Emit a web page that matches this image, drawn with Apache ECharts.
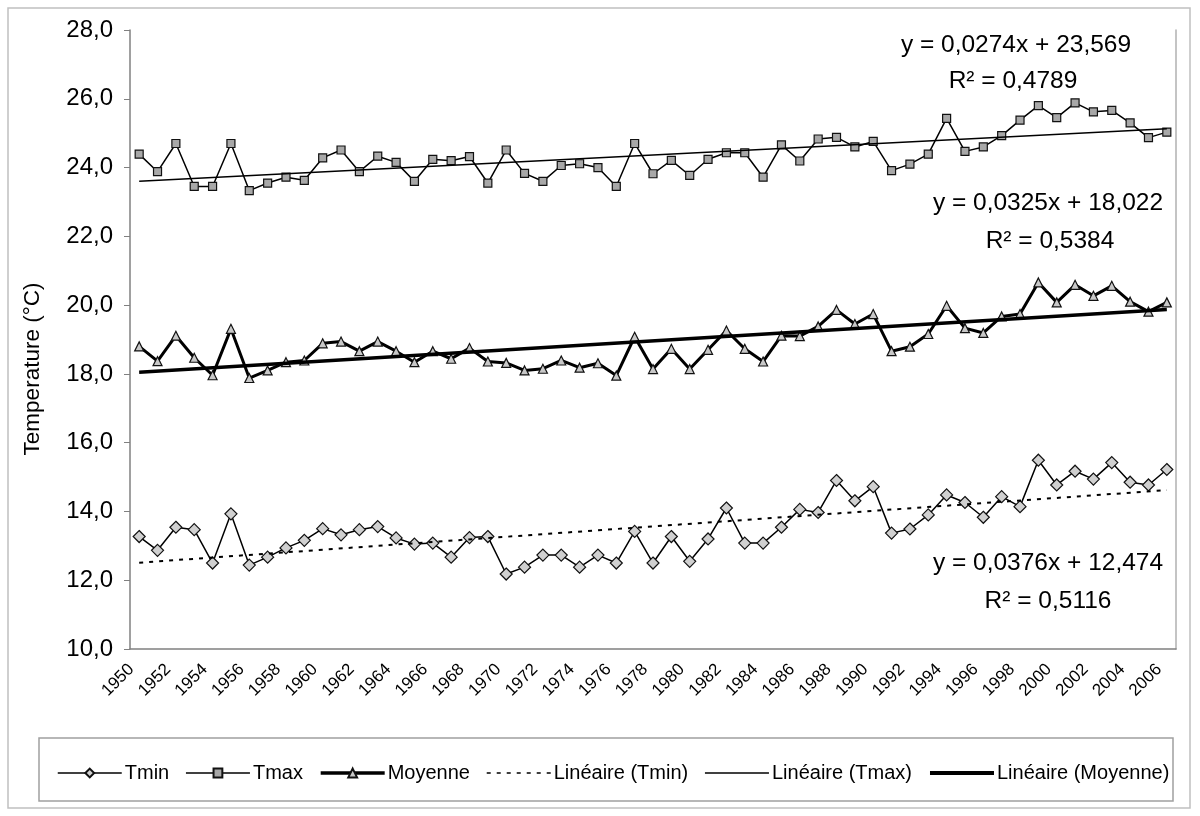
<!DOCTYPE html>
<html>
<head>
<meta charset="utf-8">
<title>Températures 1950-2006</title>
<script src="https://cdn.jsdelivr.net/npm/echarts@6/dist/echarts.min.js"></script>
<style>
  html, body { margin: 0; padding: 0; background: #fff; }
  #chart { width: 1200px; height: 816px; }
</style>
</head>
<body>
<div id="chart"></div>
<script>
// 年份（类目轴）
const years = [
  '1950', '1951', '1952', '1953', '1954', '1955', '1956', '1957', '1958', '1959',
  '1960', '1961', '1962', '1963', '1964', '1965', '1966', '1967', '1968', '1969',
  '1970', '1971', '1972', '1973', '1974', '1975', '1976', '1977', '1978', '1979',
  '1980', '1981', '1982', '1983', '1984', '1985', '1986', '1987', '1988', '1989',
  '1990', '1991', '1992', '1993', '1994', '1995', '1996', '1997', '1998', '1999',
  '2000', '2001', '2002', '2003', '2004', '2005', '2006'
];

// 最低气温 Tmin
const tmin = [
  13.27, 12.87, 13.54, 13.47, 12.50, 13.93, 12.44, 12.67, 12.94, 13.16,
  13.50, 13.32, 13.47, 13.56, 13.23, 13.05, 13.08, 12.67, 13.24, 13.27,
  12.18, 12.38, 12.73, 12.73, 12.38, 12.73, 12.50, 13.42, 12.50, 13.27,
  12.55, 13.20, 14.10, 13.08, 13.08, 13.54, 14.06, 13.97, 14.90, 14.31,
  14.72, 13.37, 13.49, 13.90, 14.48, 14.26, 13.83, 14.43, 14.14, 15.49,
  14.77, 15.17, 14.94, 15.42, 14.85, 14.77, 15.22
];

// 最高气温 Tmax
const tmax = [
  24.39, 23.88, 24.70, 23.45, 23.45, 24.70, 23.33, 23.55, 23.72, 23.63,
  24.28, 24.51, 23.88, 24.33, 24.15, 23.60, 24.24, 24.20, 24.32, 23.55,
  24.51, 23.83, 23.60, 24.06, 24.11, 24.00, 23.45, 24.70, 23.82, 24.21,
  23.77, 24.24, 24.43, 24.43, 23.72, 24.66, 24.19, 24.83, 24.88, 24.60,
  24.76, 23.91, 24.10, 24.39, 25.43, 24.47, 24.60, 24.93, 25.38, 25.80,
  25.45, 25.88, 25.62, 25.66, 25.30, 24.87, 25.03
];

// 平均气温 Moyenne
const moyenne = [
  18.80, 18.37, 19.11, 18.47, 17.96, 19.31, 17.88, 18.10, 18.34, 18.39,
  18.89, 18.94, 18.66, 18.94, 18.66, 18.34, 18.66, 18.44, 18.75, 18.36,
  18.32, 18.10, 18.15, 18.39, 18.18, 18.31, 17.95, 19.08, 18.14, 18.73,
  18.14, 18.70, 19.26, 18.73, 18.36, 19.11, 19.10, 19.38, 19.86, 19.45,
  19.74, 18.66, 18.79, 19.16, 19.98, 19.33, 19.19, 19.67, 19.74, 20.66,
  20.08, 20.59, 20.27, 20.56, 20.10, 19.81, 20.08
];

// 趋势线两端的值（首年、末年）
const trendTmin = [12.51, 14.62];
const trendTmax = [23.60, 25.13];
const trendMoyenne = [18.05, 19.87];

// 纵轴刻度
const yMin = 10;
const yMax = 28;
const yStep = 2;

// 趋势方程标注文字
const eqTmax = ['y = 0,0274x + 23,569', 'R² = 0,4789'];
const eqMoyenne = ['y = 0,0325x + 18,022', 'R² = 0,5384'];
const eqTmin = ['y = 0,0376x + 12,474', 'R² = 0,5116'];

const FONT = '"Liberation Sans", Arial, sans-serif';

/**
 * 把两端值铺成整条类目数据，中间留空，由 connectNulls 连成直线
 */
function trendData(ends) {
  const data = years.map(() => '-');
  data[0] = ends[0];
  data[data.length - 1] = ends[1];
  return data;
}

/**
 * 生成一条标注文字
 */
function label(text, x, y) {
  return {
    type: 'text',
    x: x,
    y: y,
    style: {
      text: text,
      font: '24.5px ' + FONT,
      fill: '#000',
      textAlign: 'center',
      textVerticalAlign: 'middle'
    }
  };
}

const chart = echarts.init(document.getElementById('chart'), null, { renderer: 'canvas' });

// 趋势线的图例不画圆点
const noSymbol = { color: 'rgba(0,0,0,0)', borderWidth: 0 };

const option = {
  animation: false,
  backgroundColor: '#fff',
  grid: { left: 130, right: 24, top: 30, bottom: 167, containLabel: false },
  xAxis: {
    type: 'category',
    data: years,
    boundaryGap: true,
    axisLine: { lineStyle: { color: '#808080', width: 1.5 } },
    axisTick: { interval: 0, length: 6, lineStyle: { color: '#808080' } },
    axisLabel: {
      interval: 1,
      rotate: 45,
      margin: 10,
      padding: [0, 11, 0, 0],
      color: '#000',
      fontSize: 17,
      fontFamily: FONT
    },
    splitLine: { show: false }
  },
  yAxis: [
    {
      type: 'value',
      min: yMin,
      max: yMax,
      interval: yStep,
      axisLine: { show: true, lineStyle: { color: '#808080', width: 1.5 } },
      axisTick: { show: true, length: 6, lineStyle: { color: '#808080' } },
      axisLabel: {
        margin: 17,
        color: '#000',
        fontSize: 24,
        fontFamily: FONT,
        formatter: (v) => v.toFixed(1).replace('.', ',')
      },
      splitLine: { show: false }
    },
    {
      // 右侧边框
      type: 'value',
      position: 'right',
      min: yMin,
      max: yMax,
      interval: yStep,
      axisLine: { show: true, lineStyle: { color: '#b0b0b0', width: 1.5 } },
      axisTick: { show: false },
      axisLabel: { show: false },
      splitLine: { show: false }
    }
  ],
  legend: {
    top: 758,
    left: 52,
    itemWidth: 64,
    itemHeight: 11,
    itemGap: 16,
    textStyle: { color: '#000', fontSize: 20, fontFamily: FONT, padding: [0, 0, 0, -2] },
    data: [
      { name: 'Tmin', lineStyle: { width: 1.5 } },
      { name: 'Tmax', lineStyle: { width: 1.5 } },
      { name: 'Moyenne', lineStyle: { width: 3.5 } },
      { name: 'Linéaire (Tmin)', itemStyle: noSymbol, lineStyle: { width: 1.5 } },
      { name: 'Linéaire (Tmax)', itemStyle: noSymbol, lineStyle: { width: 1.5 } },
      { name: 'Linéaire (Moyenne)', itemStyle: noSymbol, lineStyle: { width: 4 } }
    ]
  },
  graphic: [
    // 外框
    {
      type: 'rect',
      shape: { x: 8, y: 8, width: 1182, height: 800 },
      style: { fill: 'none', stroke: '#c0c0c0', lineWidth: 1.5 },
      silent: true,
      z: -10
    },
    // 图例边框
    {
      type: 'rect',
      shape: { x: 39, y: 738, width: 1134, height: 63 },
      style: { fill: 'none', stroke: '#a0a0a0', lineWidth: 1.5 },
      silent: true
    },
    // 纵轴标题
    {
      type: 'text',
      x: 33,
      y: 369,
      rotation: Math.PI / 2,
      style: {
        text: 'Temperature (°C)',
        font: '22.5px ' + FONT,
        fill: '#000',
        textAlign: 'center',
        textVerticalAlign: 'middle'
      }
    },
    label(eqTmax[0], 1016, 45),
    label(eqTmax[1], 1013, 81),
    label(eqMoyenne[0], 1048, 203),
    label(eqMoyenne[1], 1050, 241),
    label(eqTmin[0], 1048, 563),
    label(eqTmin[1], 1048, 601)
  ],
  series: [
    {
      name: 'Tmin',
      type: 'line',
      data: tmin,
      symbol: 'diamond',
      symbolSize: 12,
      lineStyle: { color: '#000', width: 1.5 },
      itemStyle: { color: '#d0d0d0', borderColor: '#111', borderWidth: 1.2 },
      z: 5
    },
    {
      name: 'Tmax',
      type: 'line',
      data: tmax,
      symbol: 'rect',
      symbolSize: 8,
      lineStyle: { color: '#000', width: 1.5 },
      itemStyle: { color: '#a8a8a8', borderColor: '#111', borderWidth: 1.2 },
      z: 5
    },
    {
      name: 'Moyenne',
      type: 'line',
      data: moyenne,
      symbol: 'triangle',
      symbolSize: 9,
      lineStyle: { color: '#000', width: 3 },
      itemStyle: { color: '#c8c8c8', borderColor: '#111', borderWidth: 1.2 },
      z: 5
    },
    {
      name: 'Linéaire (Tmin)',
      type: 'line',
      data: trendData(trendTmin),
      connectNulls: true,
      symbol: 'none',
      lineStyle: { color: '#000', width: 2, type: [4, 6] },
      itemStyle: noSymbol,
      z: 6
    },
    {
      name: 'Linéaire (Tmax)',
      type: 'line',
      data: trendData(trendTmax),
      connectNulls: true,
      symbol: 'none',
      lineStyle: { color: '#000', width: 1.5 },
      itemStyle: noSymbol,
      z: 6
    },
    {
      name: 'Linéaire (Moyenne)',
      type: 'line',
      data: trendData(trendMoyenne),
      connectNulls: true,
      symbol: 'none',
      lineStyle: { color: '#000', width: 3.5 },
      itemStyle: noSymbol,
      z: 6
    }
  ]
};

chart.setOption(option);
</script>
</body>
</html>
